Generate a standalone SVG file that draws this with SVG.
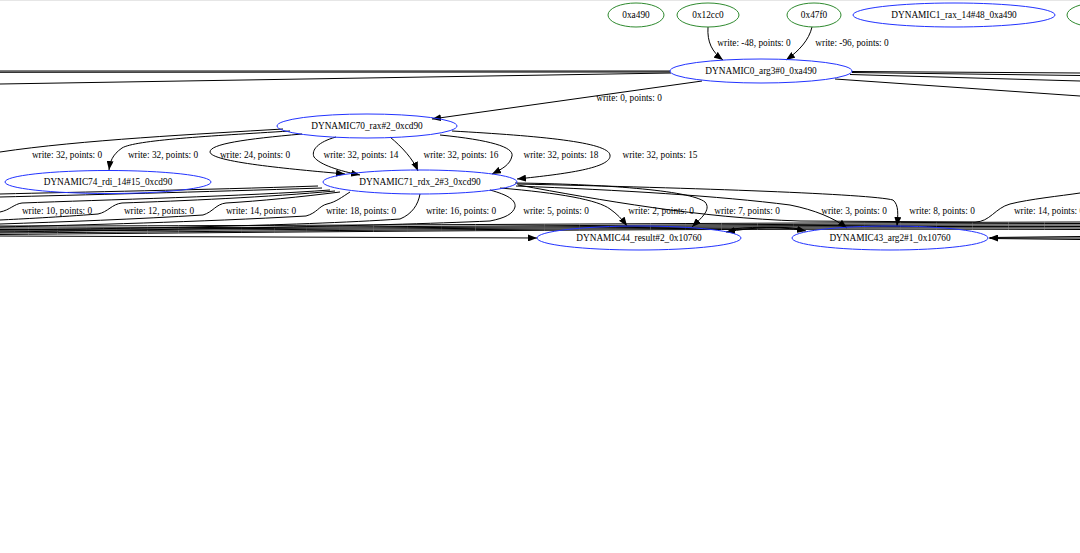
<svg xmlns="http://www.w3.org/2000/svg" width="1080" height="553" viewBox="0 0 1080 553">
<style>
.bg{fill:#ffffff}
.g ellipse{fill:none;stroke:#2f8a2f;stroke-width:1}
.b ellipse{fill:none;stroke:#2233ff;stroke-width:1}
text{font-family:"Liberation Serif","Times New Roman",serif;font-size:9.3px;fill:#000;text-anchor:middle}
#edges path{fill:none;stroke:#000;stroke-width:1}
#edges .a{marker-end:url(#arr)}
</style>
<defs>
<marker id="arr" viewBox="0 0 9 7" refX="9" refY="3.5" markerWidth="9" markerHeight="7" markerUnits="userSpaceOnUse" orient="auto">
<path d="M0,0 L9,3.5 L0,7 z" fill="#000"/>
</marker>
</defs>
<rect class="bg" x="0" y="0" width="1080" height="553"/>
<line x1="0" y1="0.5" x2="1080" y2="0.5" stroke="#e6e6e6" stroke-width="1"/>

<g id="edges">
<!-- left bundle into DYNAMIC0 -->
<path d="M0,71 L670,71"/>
<path d="M0,72.3 L670,72"/>
<path d="M0,84 L671,73"/>
<!-- right of DYNAMIC0 -->
<path d="M852,71.5 L1080,73"/>
<path d="M852,72.5 L1080,75.5"/>
<path d="M850,74.5 L1080,81"/>
<path d="M835,79 L1080,96"/>
<!-- into DYNAMIC0 -->
<path class="a" d="M708,27 C707,42 712,52 723,60"/>
<path class="a" d="M812,27 C809,40 799,51 786,60"/>
<!-- DYNAMIC0 -> DYNAMIC70 -->
<path class="a" d="M702,81 L432,119"/>
<!-- from DYNAMIC70 -->
<path d="M283,129 C200,134 80,140 0,152"/>
<path class="a" d="M290,131 C210,136 135,140 122,148 C112,155 110,162 109,170"/>
<path class="a" d="M302,134 C245,139 210,144 210,152 C211,162 290,169 345,174"/>
<path class="a" d="M336,137 C318,142 311,150 314,157 C320,165 340,171 360,175"/>
<path class="a" d="M390,137 C402,147 413,159 418,171"/>
<path class="a" d="M440,135 C490,140 514,147 512,156 C510,165 502,169 492,174"/>
<path class="a" d="M452,131 C540,136 608,142 610,155 C612,168 565,174 517,179"/>
<!-- from DYNAMIC71 left -->
<path d="M318,186 C200,190 80,192 0,194"/>
<path d="M322,188 C200,192 80,195 0,197"/>
<path d="M330,190 C250,196 100,200 22,203 C14,204 10,210 0,212"/>
<path d="M335,191 C270,197 180,201 122,203 C112,204 108,212 98,214 C60,217 20,219 0,220"/>
<path d="M340,192 C300,197 260,201 226,203 C216,204 213,212 203,215 C140,219 60,222 0,224"/>
<path d="M350,192 C342,197 336,202 327,204 C319,206 317,213 306,216 C200,222 80,225 0,227"/>
<path d="M420,194 C418,205 412,214 400,219 C300,226 100,229 0,230"/>
<path d="M490,190 C508,195 516,200 515,207 C513,214 505,218 490,221 C380,226 150,230 0,232"/>
<!-- from DYNAMIC71 right -->
<path class="a" d="M500,188 C560,193 598,200 610,209 C617,214 622,219 627,226"/>
<path class="a" d="M515,183 C600,184 690,190 705,202 C712,210 700,219 692,227"/>
<path class="a" d="M516,186 C620,190 720,196 790,205 C815,210 834,218 847,228"/>
<path class="a" d="M517,184 C700,188 870,194 893,200 C899,205 898,215 897,226"/>
<path d="M518,185 C600,200 700,218 800,221 L975,222 C990,222 995,208 1010,204 C1030,199 1060,196 1080,193"/>
<!-- long bundle -->
<path d="M0,226 C300,226 700,223 1080,222"/>
<path d="M0,228 C300,228 700,224 1080,223.5"/>
<path d="M0,229.5 C300,229 700,225 1080,225"/>
<path d="M0,231 C300,230 700,226 1080,226.5"/>
<path d="M0,233 C300,231 700,227 1080,228"/>
<path d="M0,234.5 C300,232 700,228 1080,229.5"/>
<!-- into DYNAMIC44 left -->
<path class="a" d="M0,236 L537,238"/>
<!-- between DYNAMIC44 and DYNAMIC43 -->
<path class="a" d="M800,229 C780,226 755,227 726,232"/>
<path class="a" d="M732,229 C760,226 785,227 806,231"/>
<!-- into DYNAMIC43 right -->
<path class="a" d="M1080,238 L989,238"/>
<path d="M1080,236.5 L990,237.5"/>
<path d="M1080,239.5 L990,238.5"/>
</g>

<g id="n_0xa490" class="g"><ellipse cx="636" cy="15" rx="28" ry="12"/><text x="636" y="18.3">0xa490</text></g>
<g id="n_0x12cc0" class="g"><ellipse cx="708" cy="15" rx="31" ry="12"/><text x="708" y="18.3">0x12cc0</text></g>
<g id="n_0x47f0" class="g"><ellipse cx="814" cy="15" rx="27" ry="12"/><text x="814" y="18.3">0x47f0</text></g>
<g id="n_dyn1" class="b"><ellipse cx="954" cy="15" rx="101" ry="12"/><text x="954" y="18.3">DYNAMIC1_rax_14#48_0xa490</text></g>
<g id="n_partial" class="g"><ellipse cx="1097" cy="15" rx="30" ry="12"/></g>
<g id="n_dyn0" class="b"><ellipse cx="761" cy="71" rx="91" ry="12"/><text x="761" y="74.3">DYNAMIC0_arg3#0_0xa490</text></g>
<g id="n_dyn70" class="b"><ellipse cx="367" cy="126" rx="90" ry="12"/><text x="367" y="129.3">DYNAMIC70_rax#2_0xcd90</text></g>
<g id="n_dyn74" class="b"><ellipse cx="108" cy="182" rx="103" ry="11.5"/><text x="108" y="185.3">DYNAMIC74_rdi_14#15_0xcd90</text></g>
<g id="n_dyn71" class="b"><ellipse cx="420" cy="182" rx="97" ry="12"/><text x="420" y="185.3">DYNAMIC71_rdx_2#3_0xcd90</text></g>
<g id="n_dyn44" class="b"><ellipse cx="639" cy="238" rx="102" ry="12"/><text x="639" y="241.3">DYNAMIC44_result#2_0x10760</text></g>
<g id="n_dyn43" class="b"><ellipse cx="890" cy="238" rx="98" ry="12"/><text x="890" y="241.3">DYNAMIC43_arg2#1_0x10760</text></g>

<g id="edge_labels">
<text x="754" y="46">write: -48, points: 0</text>
<text x="852" y="46">write: -96, points: 0</text>
<text x="629" y="101">write: 0, points: 0</text>
<text x="67" y="158">write: 32, points: 0</text>
<text x="163" y="158">write: 32, points: 0</text>
<text x="255" y="158">write: 24, points: 0</text>
<text x="361" y="158">write: 32, points: 14</text>
<text x="461" y="158">write: 32, points: 16</text>
<text x="561" y="158">write: 32, points: 18</text>
<text x="660" y="158">write: 32, points: 15</text>
<text x="57" y="214">write: 10, points: 0</text>
<text x="159" y="214">write: 12, points: 0</text>
<text x="261" y="214">write: 14, points: 0</text>
<text x="361" y="214">write: 18, points: 0</text>
<text x="461" y="214">write: 16, points: 0</text>
<text x="556" y="214">write: 5, points: 0</text>
<text x="661" y="214">write: 2, points: 0</text>
<text x="747" y="214">write: 7, points: 0</text>
<text x="854" y="214">write: 3, points: 0</text>
<text x="942" y="214">write: 8, points: 0</text>
<text x="1049" y="214">write: 14, points: 0</text>
</g>
</svg>
